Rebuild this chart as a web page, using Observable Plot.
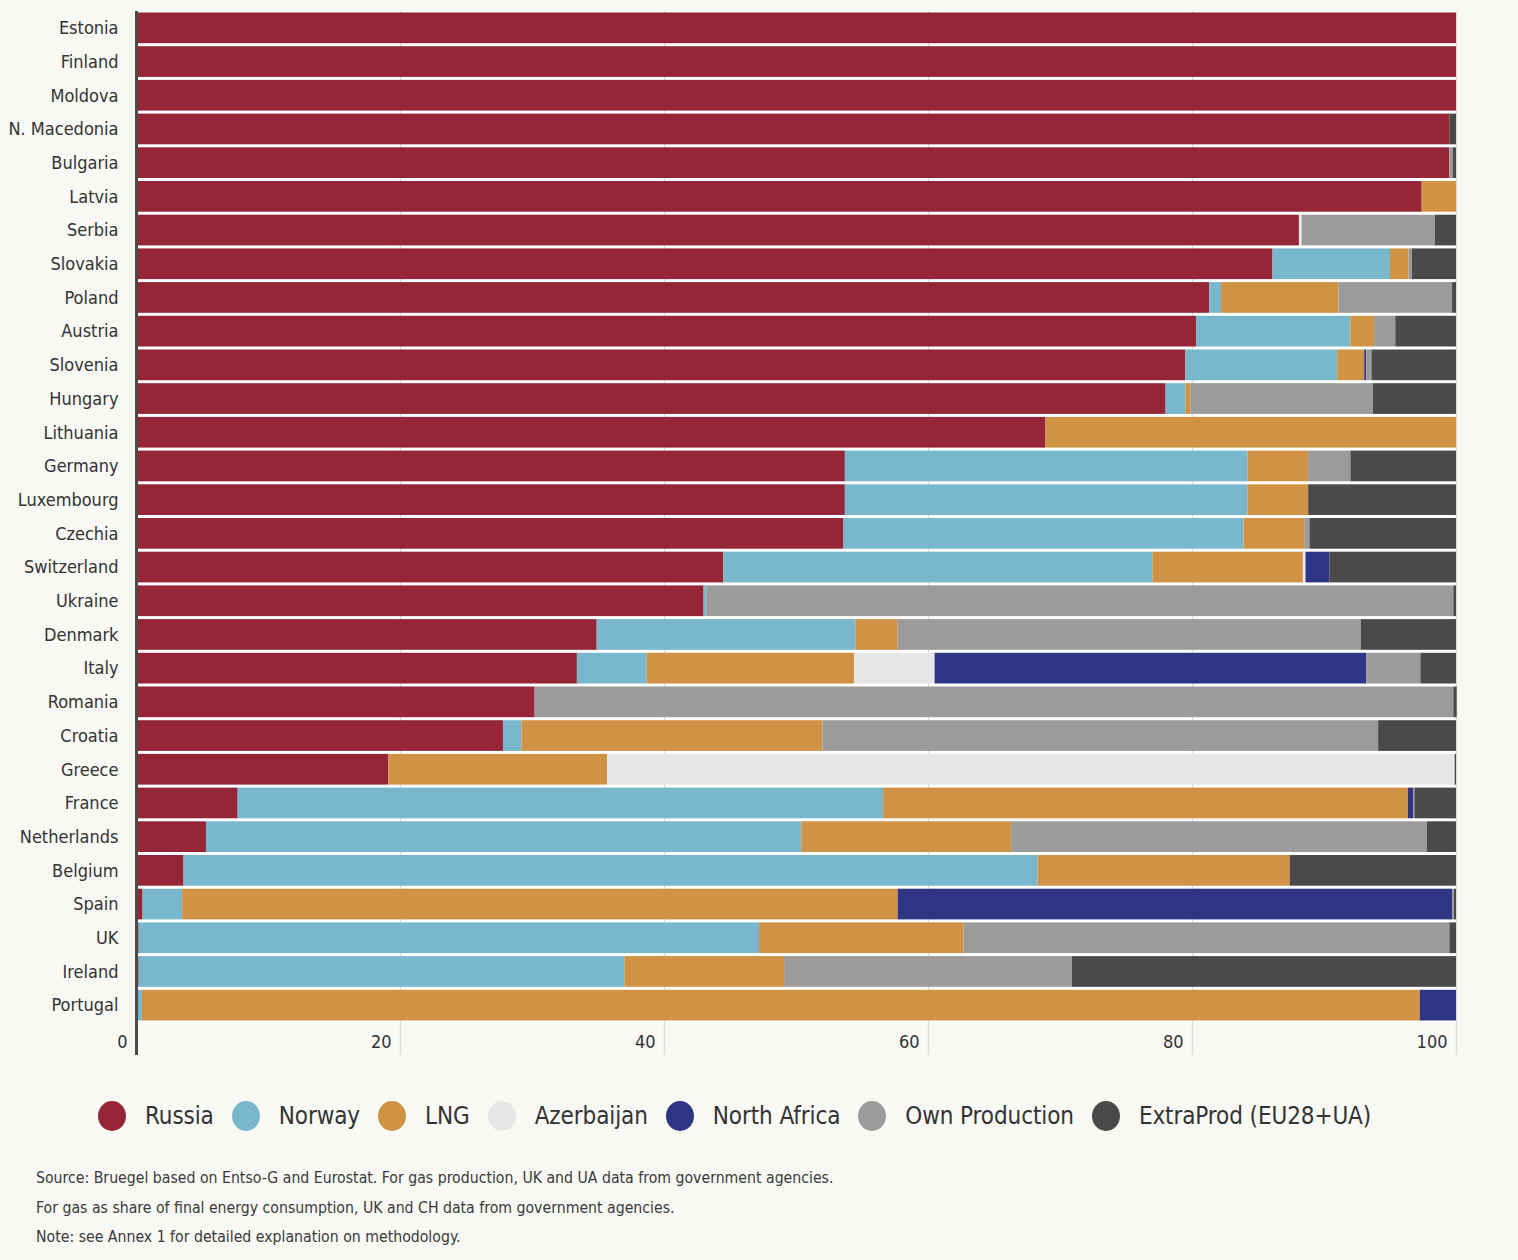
<!DOCTYPE html>
<html>
<head>
<meta charset="utf-8">
<script src="https://cdn.jsdelivr.net/npm/d3@7"></script>
<script src="https://cdn.jsdelivr.net/npm/@observablehq/plot@0.6"></script>
<style>
  html, body { margin: 0; padding: 0; background: #f8f8f4; }
  body { width: 1518px; height: 1260px; font-family: "DejaVu Sans Condensed", "Liberation Sans Narrow", sans-serif; color: #333; }
  #chart svg { display: block; }
  #legend { display: flex; align-items: center; margin-top: 38px; padding-left: 98px; height: 32px; white-space: nowrap; }
  .item { display: flex; align-items: center; margin-right: 18px; flex: none; }
  .dot { width: 28px; height: 30px; border-radius: 50%; margin-right: 19px; flex: none; }
  .lab { font-size: 24px; color: #333; letter-spacing: -0.1px; }
  #notes { margin-top: 31px; padding-left: 36px; font-size: 15.7px; color: #3a3a3a; line-height: 29.5px; }
</style>
</head>
<body>
<div id="chart"></div>
<div id="legend"></div>
<div id="notes">
  <div>Source: Bruegel based on Entso-G and Eurostat. For gas production, UK and UA data from government agencies.</div>
  <div>For gas as share of final energy consumption, UK and CH data from government agencies.</div>
  <div>Note: see Annex 1 for detailed explanation on methodology.</div>
</div>
<script>
const countries = ["Estonia","Finland","Moldova","N. Macedonia","Bulgaria","Latvia","Serbia","Slovakia","Poland","Austria","Slovenia","Hungary","Lithuania","Germany","Luxembourg","Czechia","Switzerland","Ukraine","Denmark","Italy","Romania","Croatia","Greece","France","Netherlands","Belgium","Spain","UK","Ireland","Portugal"];

const series = ["Russia","Norway","LNG","Azerbaijan","North Africa","Own Production","ExtraProd (EU28+UA)"];
const colors = ["#952537","#79b8cc","#d09245","#e6e6e6","#2f3585","#9b9b9b","#4a4a4a"];

const russia        = [100, 100, 100, 99.5, 99.5, 97.4, 88.1, 86.1, 81.3, 80.3, 79.5, 78.0, 68.9, 53.7, 53.7, 53.6, 44.5, 43.0, 34.9, 33.4, 30.2, 27.8, 19.1, 7.7, 5.3, 3.6, 0.5, 0.2, 0.2, 0];
const norway        = [0, 0, 0, 0, 0, 0, 0, 8.9, 0.9, 11.7, 11.5, 1.5, 0, 30.5, 30.5, 30.3, 32.5, 0.2, 19.6, 5.3, 0, 1.4, 0, 48.9, 45.1, 64.7, 3.0, 47.0, 36.8, 0.45];
const lng           = [0, 0, 0, 0, 0, 2.6, 0, 1.4, 8.9, 1.8, 2.05, 0.4, 31.1, 4.6, 4.6, 4.6, 11.4, 0, 3.2, 15.7, 0, 22.8, 16.6, 39.75, 15.9, 19.1, 54.2, 15.5, 12.1, 96.8];
const azerbaijan    = [0, 0, 0, 0, 0, 0, 0.2, 0, 0, 0, 0, 0, 0, 0, 0, 0, 0.2, 0, 0, 6.1, 0, 0, 64.2, 0, 0, 0, 0, 0, 0, 0];
const northAfrica   = [0, 0, 0, 0, 0, 0, 0, 0, 0, 0, 0.15, 0, 0, 0, 0, 0, 1.8, 0, 0, 32.7, 0, 0, 0, 0.4, 0, 0, 42.0, 0, 0, 2.75];
const ownProduction = [0, 0, 0, 0, 0.25, 0, 10.1, 0.25, 8.6, 1.6, 0.4, 13.8, 0, 3.2, 0, 0.4, 0, 56.6, 35.1, 4.1, 69.6, 42.1, 0, 0.1, 31.5, 0, 0.15, 36.8, 21.8, 0];
const extraProd     = [0, 0, 0, 0.5, 0.25, 0, 1.6, 3.35, 0.3, 4.6, 6.4, 6.3, 0, 8.0, 11.2, 11.1, 9.6, 0.2, 7.2, 2.7, 0.25, 5.9, 0.1, 3.15, 2.2, 12.6, 0.15, 0.5, 29.1, 0];

const xTicks = [0, 20, 40, 60, 80, 100];

const valuesBySeries = [russia, norway, lng, azerbaijan, northAfrica, ownProduction, extraProd];
const data = [];
countries.forEach((c, i) => {
  series.forEach((s, j) => {
    data.push({country: c, source: s, value: valuesBySeries[j][i]});
  });
});

const font = '"DejaVu Sans Condensed", "Liberation Sans Narrow", sans-serif';

const chart = Plot.plot({
  width: 1518,
  height: 1062,
  marginLeft: 136,
  marginRight: 62,
  marginTop: 11,
  marginBottom: 7,
  style: {background: "transparent", fontFamily: font, color: "#333"},
  x: {domain: [0, 100], axis: null},
  y: {domain: countries, padding: 0, round: false, insetBottom: 33, axis: null},
  color: {domain: series, range: colors},
  marks: [
    Plot.barX(countries, {x1: 0, x2: 100, y: d => d, fill: "white"}),
    Plot.ruleX(xTicks.filter(d => d > 0), {stroke: "#dcdcdc", strokeWidth: 1.5}),
    Plot.barX(data, Plot.stackX({x: "value", y: "country", fill: "source", order: series, insetTop: 1.5, insetBottom: 1.5})),
    Plot.ruleX([0], {stroke: "#4a4a4a", strokeWidth: 3}),
    Plot.axisY({tickSize: 0, tickPadding: 18, fontSize: 18, label: null, fill: "#333"}),
    Plot.text(xTicks, {x: d => d, text: d => String(d), frameAnchor: "bottom", lineAnchor: "middle", textAnchor: "end", dx: -9, dy: -13, fontSize: 18, fill: "#333"})
  ]
});
document.getElementById("chart").appendChild(chart);

const legend = document.getElementById("legend");
series.forEach((s, i) => {
  const item = document.createElement("div");
  item.className = "item";
  const dot = document.createElement("span");
  dot.className = "dot";
  dot.style.background = colors[i];
  const lab = document.createElement("span");
  lab.className = "lab";
  lab.textContent = s;
  item.appendChild(dot);
  item.appendChild(lab);
  legend.appendChild(item);
});
</script>
</body>
</html>
